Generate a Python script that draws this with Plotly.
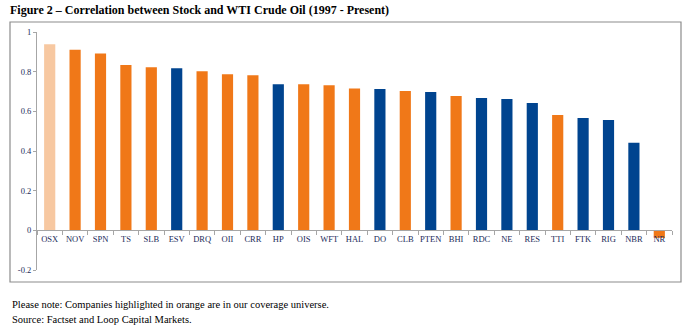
import plotly.graph_objects as go

# Correlation of each stock with WTI crude oil, 1997 - present
tickers = ["OSX", "NOV", "SPN", "TS", "SLB", "ESV", "DRQ", "OII", "CRR", "HP", "OIS", "WFT",
           "HAL", "DO", "CLB", "PTEN", "BHI", "RDC", "NE", "RES", "TTI", "FTK", "RIG", "NBR", "NR"]
correlation = [0.938, 0.911, 0.891, 0.833, 0.822, 0.817, 0.802, 0.787, 0.782, 0.737, 0.737, 0.732,
               0.715, 0.712, 0.702, 0.697, 0.677, 0.667, 0.662, 0.642, 0.581, 0.566, 0.556, 0.441, -0.038]
# "index" = sector index, "coverage" = in coverage universe, "other" = not covered
group = ["index", "coverage", "coverage", "coverage", "coverage", "other", "coverage", "coverage",
         "coverage", "other", "coverage", "coverage", "coverage", "other", "coverage", "other",
         "coverage", "other", "other", "other", "coverage", "other", "other", "other", "coverage"]

y_ticks = [-0.2, 0, 0.2, 0.4, 0.6, 0.8, 1]
y_tick_text = ["-0.2", "0", "0.2", "0.4", "0.6", "0.8", "1"]

palette = {"index": "#F7C8A1", "coverage": "#F07818", "other": "#00448F"}
serif = "Liberation Serif, Times New Roman, serif"
label_color = "#1C2B5A"
axis_color = "#A6A6A6"

fig = go.Figure(go.Bar(
    x=tickers,
    y=correlation,
    marker=dict(color=[palette[g] for g in group], line=dict(width=0)),
    width=0.44,
    hoverinfo="x+y",
))

y_min, y_max = y_ticks[0], y_ticks[-1]

fig.update_layout(
    width=688,
    height=334,
    margin=dict(l=37, r=16, t=32, b=64),
    paper_bgcolor="white",
    plot_bgcolor="white",
    showlegend=False,
    font=dict(family=serif, size=9, color=label_color),
    title=dict(
        text="<b>Figure 2 – Correlation between Stock and WTI Crude Oil (1997 - Present)</b>",
        x=10 / 688, xanchor="left", xref="container",
        y=1 - 10 / 334, yanchor="middle", yref="container",
        font=dict(family=serif, size=12, color="black"),
    ),
    xaxis=dict(
        type="category",
        anchor="free",
        position=(0 - y_min) / (y_max - y_min),
        showline=True, linecolor=axis_color, linewidth=1,
        ticks="outside", tickson="boundaries", ticklen=4, tickcolor=axis_color,
        tickangle=0,
        showgrid=False, zeroline=False,
        tickfont=dict(family=serif, size=8.5, color=label_color),
        range=[-0.5, len(tickers) - 0.5],
    ),
    yaxis=dict(
        range=[y_min, y_max],
        tickvals=y_ticks, ticktext=y_tick_text,
        showline=True, linecolor=axis_color, linewidth=1,
        ticks="outside", ticklen=3, tickcolor=axis_color,
        showgrid=False, zeroline=False,
        tickfont=dict(family=serif, size=8.5, color=label_color),
    ),
    shapes=[dict(
        type="rect", xref="paper", yref="paper",
        x0=(10 - 37) / 635, x1=(681 - 37) / 635,
        y0=(270 - 282) / 238, y1=(270 - 22) / 238,
        line=dict(color="#8C8C8C", width=1.2), fillcolor="rgba(0,0,0,0)", layer="below",
    )],
    annotations=[
        dict(text="Please note: Companies highlighted in orange are in our coverage universe.",
             xref="paper", yref="paper", x=(10 - 37) / 635, y=(270 - 304) / 238,
             xanchor="left", yanchor="middle", showarrow=False,
             font=dict(family=serif, size=10.5, color="black")),
        dict(text="Source: Factset and Loop Capital Markets.",
             xref="paper", yref="paper", x=(10 - 37) / 635, y=(270 - 319) / 238,
             xanchor="left", yanchor="middle", showarrow=False,
             font=dict(family=serif, size=10.5, color="black")),
    ],
)

fig.write_html("out.html")
